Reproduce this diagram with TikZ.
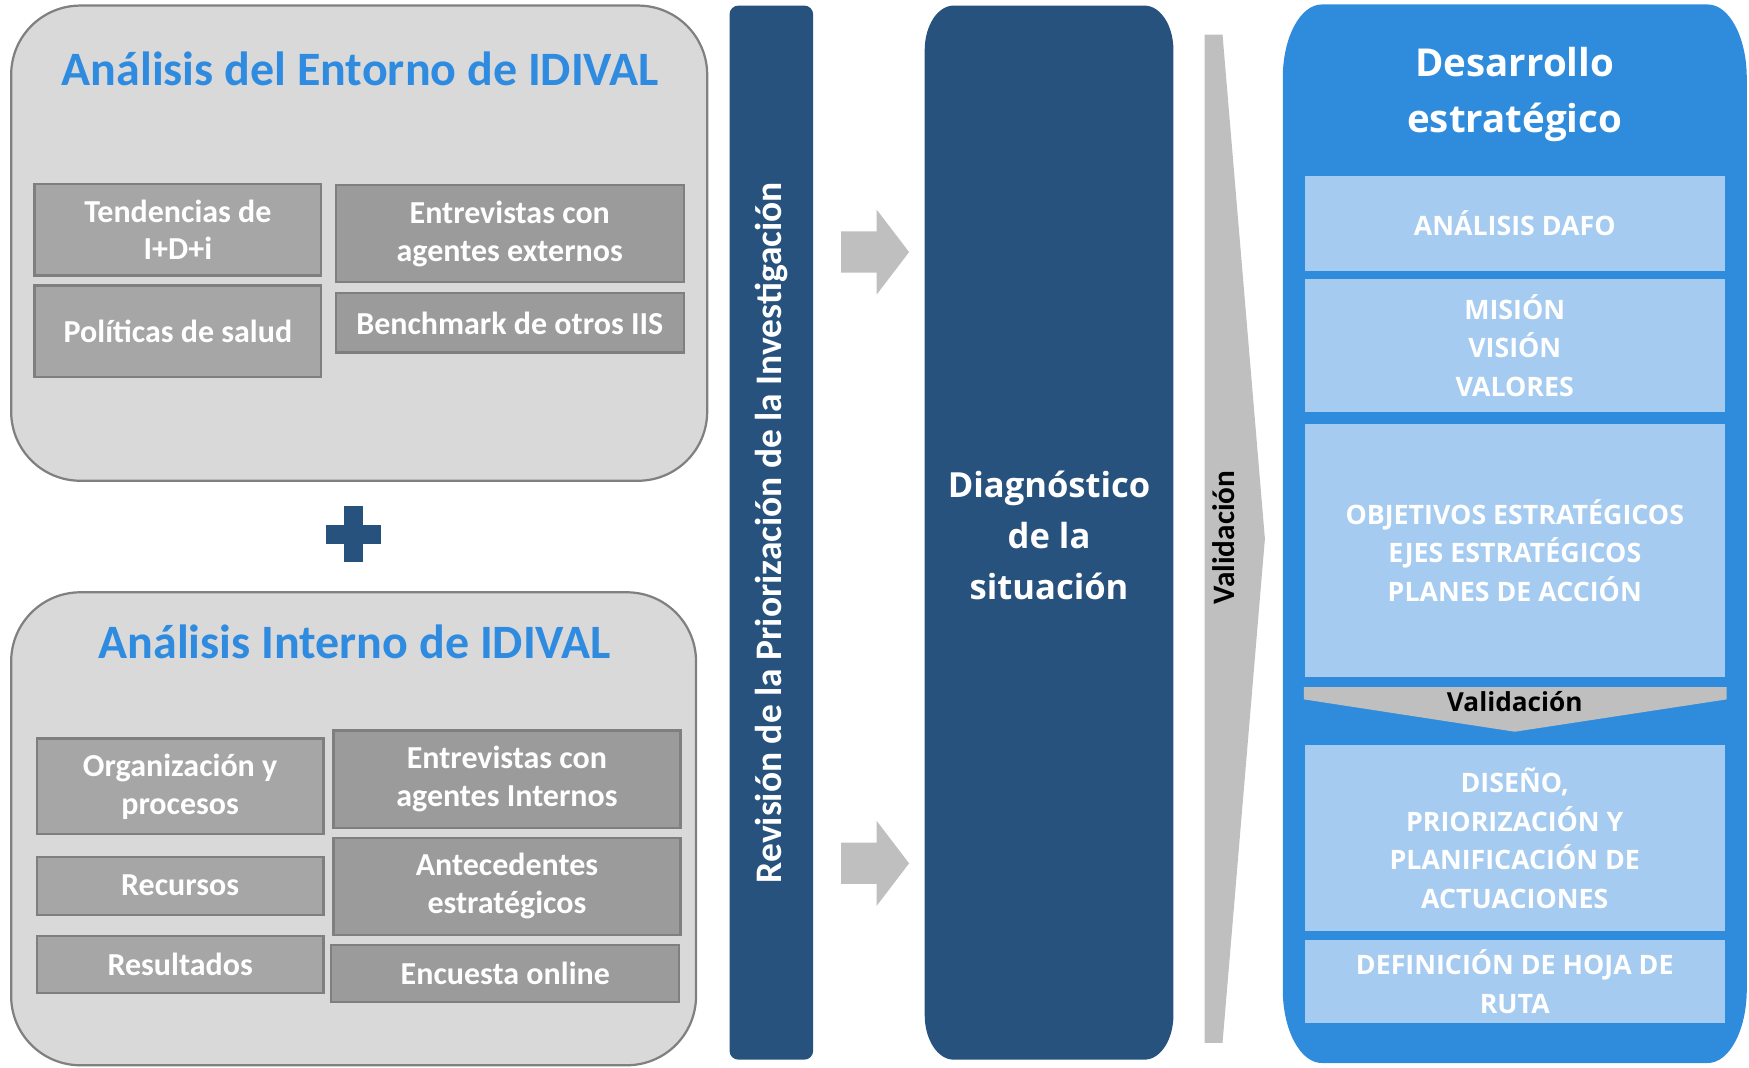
\documentclass[tikz,border=0pt]{standalone}
\usepackage{fontspec}
\setmainfont{Carlito}
\newfontfamily\widefont{Open Sans}

\definecolor{paneltone}{HTML}{D9D9D9}
\definecolor{panelrule}{HTML}{808080}
\definecolor{cellrule}{HTML}{7F7F7F}
\definecolor{cellleft}{HTML}{A6A6A6}
\definecolor{cellright}{HTML}{9B9B9B}
\definecolor{titleblue}{HTML}{2E8BE0}
\definecolor{navy}{HTML}{27527D}
\definecolor{skyblue}{HTML}{2F8CDD}
\definecolor{paleblue}{HTML}{A5CBF0}
\definecolor{arrowgray}{HTML}{BFBFBF}

\tikzset{
  panelbox/.style={draw=panelrule, fill=paneltone, line width=2pt, rounded corners=62pt},
  paneltitle/.style={text=titleblue, font=\bfseries\fontsize{43}{50}\selectfont},
  graycell/.style={draw=cellrule, line width=2pt, text=white, align=center, inner sep=0pt,
    font=\bfseries\fontsize{28.7}{34}\selectfont},
  leftcell/.style={graycell, fill=cellleft, minimum width=257pt},
  rightcell/.style={graycell, fill=cellright, minimum width=312pt},
  stagecell/.style={fill=paleblue, text=white, align=center, inner sep=0pt, minimum width=377pt,
    font=\widefont\bfseries\fontsize{24}{34.5}\selectfont},
  widetext/.style 2 args={align=center, inner sep=0pt, font=\widefont\bfseries\fontsize{#1}{#2}\selectfont},
}

\begin{document}
\begin{tikzpicture}[x=1pt,y=-1pt]
	\useasboundingbox (0,0) rectangle (1568,957);
	% entorno
	\draw[panelbox] (10,5) rectangle (634,431);
	\node[paneltitle] (entornotitle) at (323,62) {Análisis del Entorno de IDIVAL};
	\node[leftcell, minimum height=82pt] (tendencias) at (159.5,206) {Tendencias de\\I+D+i};
	\node[rightcell, minimum height=87pt] (entrevistasext) at (457,209.5) {Entrevistas con\\agentes externos};
	\node[leftcell, minimum height=82pt] (politicas) at (159.5,297) {Políticas de salud};
	\node[rightcell, minimum height=53pt] (benchmark) at (457,289.5) {Benchmark de otros IIS};
	% plus
	\fill[navy] (292,471) rectangle (342,488);
	\fill[navy] (308,454) rectangle (325,504);
	% interno
	\draw[panelbox] (10,531) rectangle (624,955);
	\node[paneltitle] (internotitle) at (318,575) {Análisis Interno de IDIVAL};
	\node[leftcell, minimum height=86pt] (organizacion) at (161.5,705) {Organización y\\procesos};
	\node[rightcell, minimum width=311pt, minimum height=87pt] (entrevistasint) at (454.5,698.5) {Entrevistas con\\agentes Internos};
	\node[leftcell, minimum height=52pt] (recursos) at (161.5,794) {Recursos};
	\node[rightcell, minimum width=311pt, minimum height=87pt] (antecedentes) at (454.5,794.5) {Antecedentes\\estratégicos};
	\node[leftcell, minimum height=51pt] (resultados) at (161.5,864.5) {Resultados};
	\node[rightcell, minimum height=51pt] (encuesta) at (453,872.5) {Encuesta online};
	% revision
	\node[fill=navy, rounded corners=8pt, rotate=90, minimum width=945pt, minimum height=75pt,
		text=white, font=\bfseries\fontsize{33.6}{40}\selectfont] (revision) at (691.5,477.5)
		{Revisión de la Priorización de la Investigación};
	\foreach \y in {226,774}
	{
		\fill[arrowgray] (754,\y-18.5) -- (786,\y-18.5) -- (786,\y-38) -- (815,\y)
			-- (786,\y+38) -- (786,\y+18.5) -- (754,\y+18.5) -- cycle;
	}
	% diagnostico
	\fill[navy] (855,5) -- (1026,5) arc[start angle=90, end angle=0, x radius=26pt, y radius=40pt]
		-- (1052,910) arc[start angle=0, end angle=-90, x radius=26pt, y radius=40pt]
		-- (855,950) arc[start angle=270, end angle=180, x radius=26pt, y radius=40pt]
		-- (829,45) arc[start angle=180, end angle=90, x radius=26pt, y radius=40pt] -- cycle;
	\node[widetext={31}{45.5}, text=white] (diagnostico) at (940.5,480) {Diagnóstico\\de la\\situación};
	\fill[arrowgray] (1080,31) -- (1096,31) -- (1134,483) -- (1096,935) -- (1080,935) -- cycle;
	\node[rotate=90, font=\bfseries\fontsize{28}{33}\selectfont] (validacion) at (1097,482) {Validación};
	% desarrollo
	\fill[skyblue] (1185,4) -- (1531,4) arc[start angle=90, end angle=0, x radius=35pt, y radius=66pt]
		-- (1566,887) arc[start angle=0, end angle=-90, x radius=35pt, y radius=66pt]
		-- (1185,953) arc[start angle=270, end angle=180, x radius=35pt, y radius=66pt]
		-- (1150,70) arc[start angle=180, end angle=90, x radius=35pt, y radius=66pt] -- cycle;
	\node[widetext={34.5}{50.5}, text=white] (desarrollo) at (1358,84.5) {Desarrollo\\estratégico};
	\node[stagecell, minimum height=85pt] (dafo) at (1358,200.5) {ANÁLISIS DAFO};
	\node[stagecell, minimum height=119pt] (mision) at (1358,309.5) {MISIÓN\\VISIÓN\\VALORES};
	\node[stagecell, minimum height=227pt] (objetivos) at (1358,493.5) {OBJETIVOS ESTRATÉGICOS\\EJES ESTRATÉGICOS\\PLANES DE ACCIÓN};
	\fill[arrowgray] (1169,616) -- (1548,616) -- (1548,627) -- (1358,656) -- (1169,627) -- cycle;
	\node[widetext={23.5}{33}] (validacionb) at (1358,629) {Validación};
	\node[stagecell, minimum height=167pt] (diseno) at (1358,751.5) {DISEÑO,\\PRIORIZACIÓN Y\\PLANIFICACIÓN DE\\ACTUACIONES};
	\node[stagecell, minimum height=74pt] (hoja) at (1358,880) {DEFINICIÓN DE HOJA DE\\RUTA};
\end{tikzpicture}
\end{document}
